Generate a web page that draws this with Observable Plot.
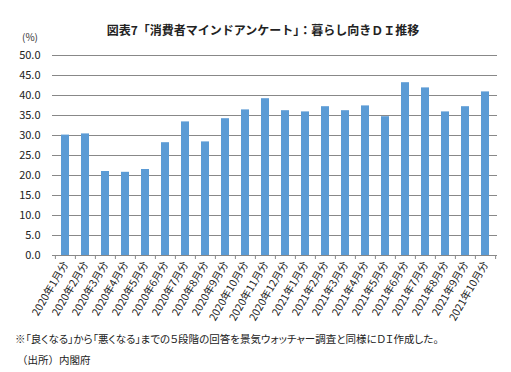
<!DOCTYPE html>
<html><head><meta charset="utf-8">
<script src="https://cdn.jsdelivr.net/npm/d3@7"></script>
<script src="https://cdn.jsdelivr.net/npm/@observablehq/plot@0.6"></script>
<style>
body{margin:0;background:#fff;font-family:"Noto Sans CJK JP",sans-serif;}
#wrap{position:relative;width:511px;height:372px;overflow:hidden;}
#title{position:absolute;top:21px;left:0;width:526px;text-align:center;font-size:12px;font-weight:bold;color:#222;}
#unit{position:absolute;top:29px;left:22px;font-size:10px;color:#333;}
#note{position:absolute;top:331px;left:15px;font-size:10.5px;color:#222;white-space:nowrap;font-feature-settings:"palt";}
#src{position:absolute;top:352px;left:17px;font-size:10.5px;color:#222;}
#chart{position:absolute;top:0;left:0;}
</style></head>
<body><div id="wrap">
<div id="chart"></div>
<div id="title">図表7「消費者マインドアンケート」：暮らし向きＤＩ推移</div>
<div id="unit">(%)</div>
<div id="note">※「良くなる」から「悪くなる」までの５段階の回答を景気ウォッチャー調査と同様にＤＩ作成した。</div>
<div id="src">（出所）内閣府</div>
</div>
<script>
const months = ["2020年1月分","2020年2月分","2020年3月分","2020年4月分","2020年5月分","2020年6月分","2020年7月分","2020年8月分","2020年9月分","2020年10月分","2020年11月分","2020年12月分","2021年1月分","2021年2月分","2021年3月分","2021年4月分","2021年5月分","2021年6月分","2021年7月分","2021年8月分","2021年9月分","2021年10月分"];
const values = [30.1,30.4,21.0,20.8,21.5,28.2,33.4,28.4,34.2,36.4,39.2,36.2,35.9,37.2,36.2,37.4,34.7,43.2,41.9,35.9,37.2,40.9];
const yTicks = [0,5,10,15,20,25,30,35,40,45,50];

const data = months.map((m,i)=>({month:m, value:values[i]}));
const W = 511, H = 325, ML = 52, MR = 14;
const step = (W - ML - MR) / months.length;

const chart = Plot.plot({
  width: W, height: H,
  marginLeft: ML, marginRight: MR, marginTop: 55, marginBottom: 70,
  style: {fontFamily: '"Noto Sans CJK JP", sans-serif', color: "#222", background: "transparent"},
  x: {domain: months, paddingInner: 0.6, paddingOuter: 0.3, label: null},
  y: {domain: [0,50], label: null},
  marks: [
    Plot.ruleY(yTicks.filter(d=>d>0), {stroke: "#888", strokeWidth: 1}),
    Plot.barY(data, {x: "month", y: "value", fill: "#5B9BD5"}),
    Plot.ruleY([0], {stroke: "#888", strokeWidth: 1}),
    Plot.ruleX(months, {x: d=>d, dx: -step/2, y1: 0, y2: -1, stroke: "#888"}),
    Plot.ruleX([months[months.length-1]], {x: d=>d, dx: step/2, y1: 0, y2: -1, stroke: "#888"}),
    Plot.axisY({ticks: yTicks, tickFormat: d=>d.toFixed(1), tickSize: 0, tickPadding: 12, fontSize: 11, label: null}),
    Plot.axisX({tickSize: 0, tickRotate: -60, tickPadding: 7, fontSize: 10.5, label: null})
  ]
});
document.getElementById("chart").appendChild(chart);
</script>
</body></html>
